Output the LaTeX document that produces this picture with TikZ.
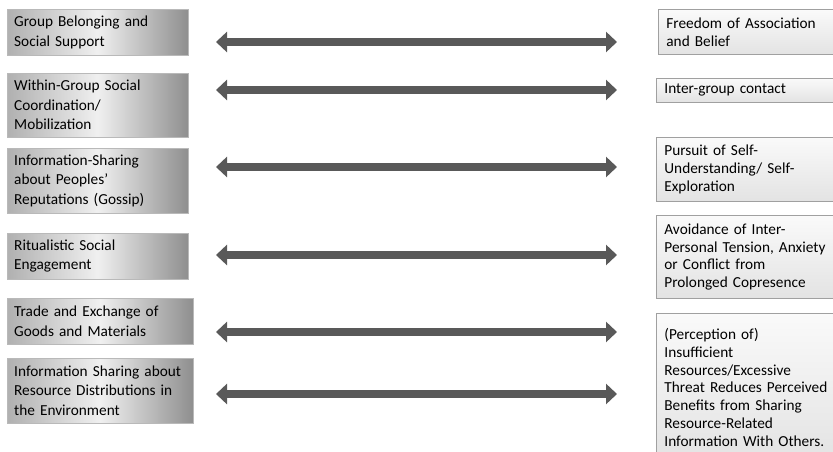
\documentclass[tikz,border=0pt]{standalone}
\usepackage{fontspec}
\setmainfont{Carlito}
\usetikzlibrary{arrows.meta, positioning}
\definecolor{arrowgray}{RGB}{89, 89, 89}
\definecolor{boxedge}{RGB}{160, 160, 160}
\tikzset{
  >=Stealth,
  blockarrow/.style={{Triangle[length=11pt, width=20pt]}-{Triangle[length=11pt, width=20pt]}, line width=8pt, arrowgray}
}

\begin{document}
\begin{tikzpicture}[x=1pt, y=-1pt,
    lbox/.style={rectangle, anchor=north west, left color=gray!62, right color=gray!88, middle color=gray!12, draw=gray!55, line width=0.4pt, text width=167pt, inner xsep=7pt, align=left, font=\fontsize{15.3}{19.5}\selectfont},
    rbox/.style={rectangle, anchor=north west, top color=gray!4, bottom color=gray!22, draw=boxedge, line width=0.8pt, text width=180pt, inner xsep=8pt, align=left, font=\fontsize{15.3}{17.7}\selectfont}]

    \useasboundingbox (0,0) rectangle (833,452);

    % Left column
    \node[lbox, minimum height=46pt] (lb1) at (7, 9) {Group Belonging and\\Social Support};
    \node[lbox, minimum height=64pt] (lb2) at (7, 73) {Within-Group Social\\Coordination/\\Mobilization};
    \node[lbox, minimum height=65pt] (lb3) at (7, 148) {Information-Sharing\\about Peoples’\\Reputations (Gossip)};
    \node[lbox, minimum height=46pt] (lb4) at (7, 233) {Ritualistic Social\\Engagement};
    \node[lbox, minimum height=46pt, text width=172pt] (lb5) at (7, 298) {Trade and Exchange of\\Goods and Materials};
    \node[lbox, minimum height=65pt, text width=172pt] (lb6) at (7, 358) {Information Sharing about\\Resource Distributions in\\the Environment};

    % Right column
    \node[rbox, minimum height=45pt] (rb1) at (658, 9) {Freedom of Association\\and Belief};
    \node[rbox, minimum height=24pt] (rb2) at (656, 78) {Inter-group contact};
    \node[rbox, minimum height=64pt] (rb3) at (656, 137) {Pursuit of Self-\\Understanding/ Self-\\Exploration};
    \node[rbox, minimum height=83pt] (rb4) at (656, 215) {Avoidance of Inter-\\Personal Tension, Anxiety\\or Conflict from\\Prolonged Copresence};
    \node[rbox, minimum height=148pt] (rb5) at (656, 313) {(Perception of)\\Insufficient\\Resources/Excessive\\Threat Reduces Perceived\\Benefits from Sharing\\Resource-Related\\Information With Others.};

    % Arrow ends
    \coordinate (a1l) at (216, 42);  \coordinate (a1r) at (617, 42);
    \coordinate (a2l) at (216, 90);  \coordinate (a2r) at (617, 90);
    \coordinate (a3l) at (216, 167); \coordinate (a3r) at (617, 167);
    \coordinate (a4l) at (216, 255); \coordinate (a4r) at (617, 255);
    \coordinate (a5l) at (216, 332); \coordinate (a5r) at (617, 332);
    \coordinate (a6l) at (216, 394); \coordinate (a6r) at (617, 394);

    % Double arrows
    \draw[blockarrow] (a1l) -- (a1r);
    \draw[blockarrow] (a2l) -- (a2r);
    \draw[blockarrow] (a3l) -- (a3r);
    \draw[blockarrow] (a4l) -- (a4r);
    \draw[blockarrow] (a5l) -- (a5r);
    \draw[blockarrow] (a6l) -- (a6r);

\end{tikzpicture}
\end{document}
